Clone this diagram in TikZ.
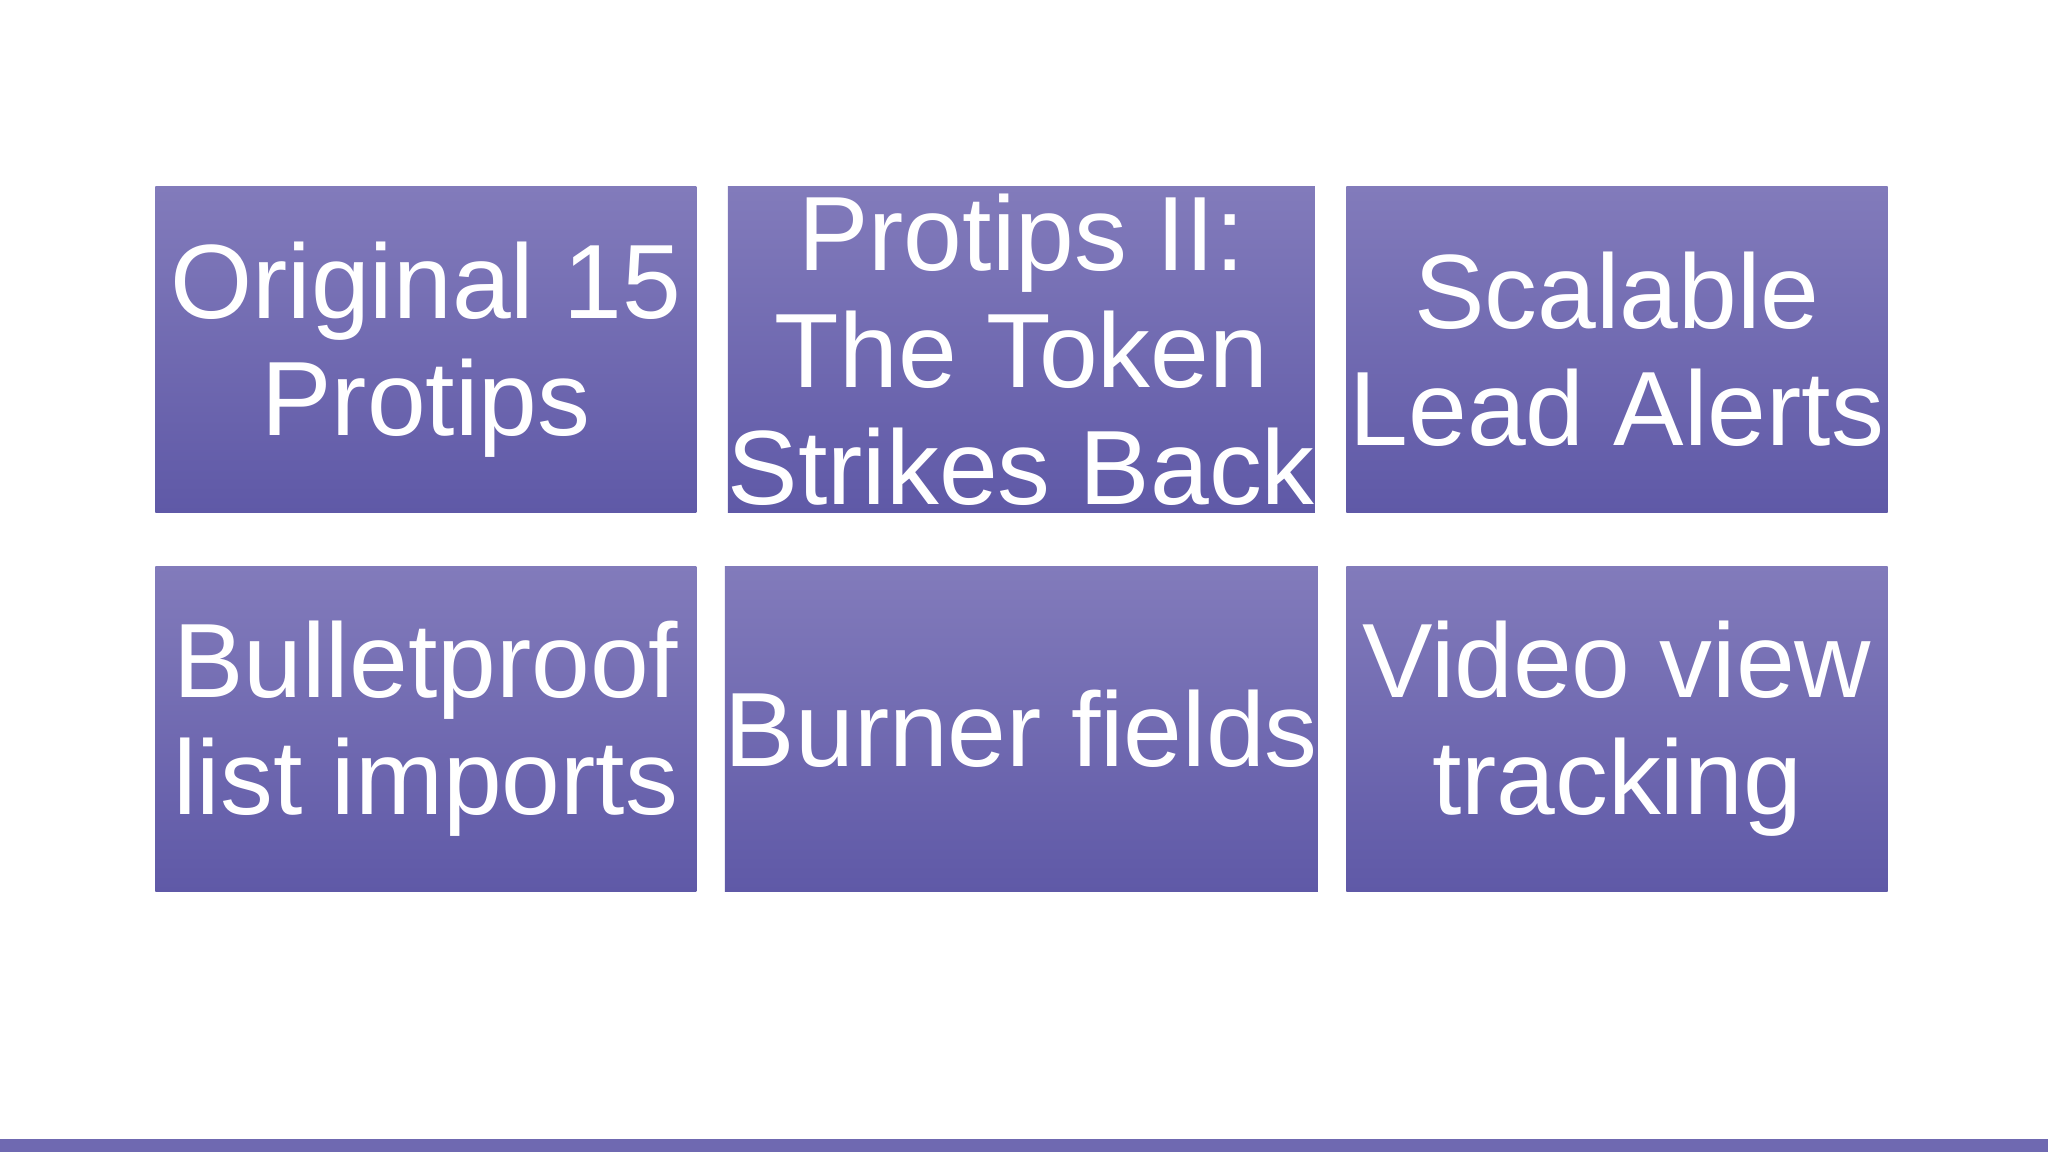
\documentclass[tikz,border=0pt]{standalone}
\usepackage{fontspec}
\setmainfont{Liberation Sans}
\definecolor{tiletop}{HTML}{827BBB}
\definecolor{tilebot}{HTML}{5F59A7}
\definecolor{barclr}{HTML}{6F69B1}
\tikzset{
  tile/.style={rectangle, minimum width=4.14cm, minimum height=2.49cm,
    top color=tiletop, bottom color=tilebot, draw=none, text=white,
    align=center, font=\fontsize{23}{25.5}\selectfont, inner sep=0pt}
}
\begin{document}
\begin{tikzpicture}[x=0.01cm,y=0.01cm]
\useasboundingbox (0,0) rectangle (1568,882);
\fill[white] (0,0) rectangle (1568,882);
\fill[barclr] (0,0) rectangle (1568,10);
% top row
\node[tile] (orig)   at (326,614.5) {Original 15\\Protips};
\node[tile] (token)  at (782,614.5) {Protips II:\\The Token\\Strikes Back};
\node[tile] (alerts) at (1238,614.5) {Scalable\\Lead Alerts};
% bottom row
\node[tile] (imports) at (326,324) {Bulletproof\\list imports};
\node[tile] (burner)  at (782,324) {Burner fields};
\node[tile] (video)   at (1238,324) {Video view\\tracking};
\end{tikzpicture}
\end{document}
